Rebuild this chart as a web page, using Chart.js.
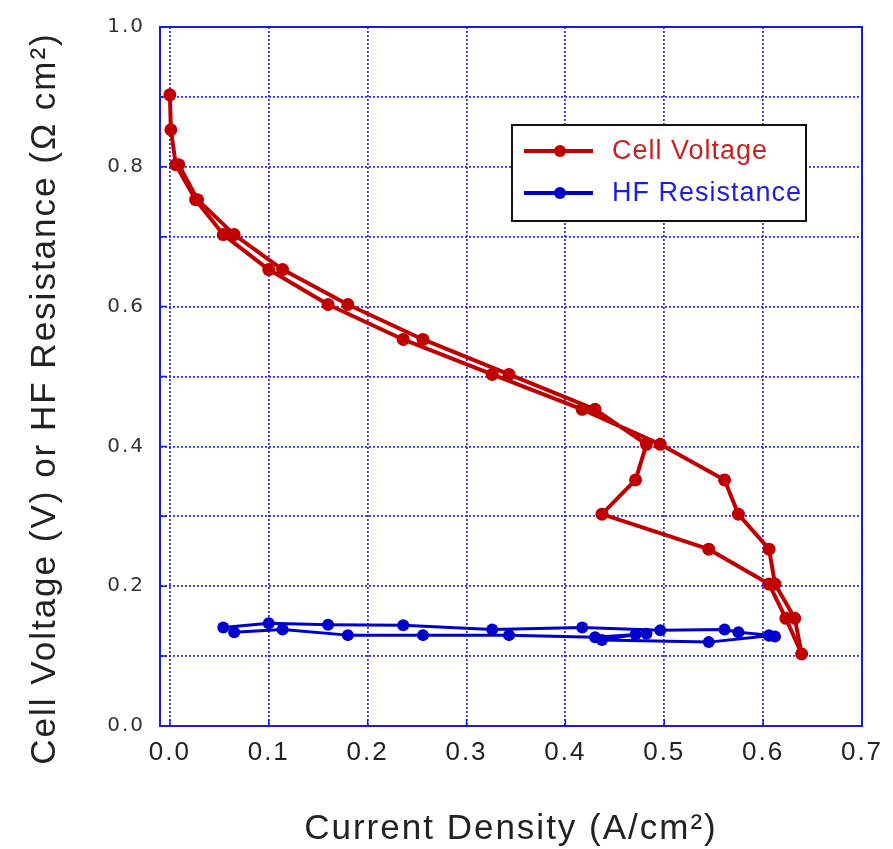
<!DOCTYPE html>
<html>
<head>
<meta charset="utf-8">
<script src="https://cdn.jsdelivr.net/npm/chart.js@4.4.1/dist/chart.umd.min.js"></script>
<style>
  html, body { margin: 0; padding: 0; background: #ffffff; }
  #wrap { width: 893px; height: 849px; position: relative; }
</style>
</head>
<body>
<div id="wrap"><canvas id="c" width="893" height="849"></canvas></div>
<script>
// ---------------- data ----------------
const seriesNames = ['Cell Voltage', 'HF Resistance'];

// Cell voltage: down sweep then up sweep (current A/cm2, voltage V)
const cellCurrent = [0.000, 0.001, 0.006, 0.026, 0.054, 0.100, 0.160, 0.236, 0.326, 0.417, 0.496, 0.561, 0.575, 0.606, 0.612, 0.632, 0.639,
                     0.623, 0.606, 0.545, 0.437, 0.471, 0.482, 0.430, 0.343, 0.256, 0.180, 0.114, 0.065, 0.028, 0.009];
const cellVoltage = [0.903, 0.853, 0.803, 0.753, 0.703, 0.653, 0.603, 0.553, 0.503, 0.453, 0.403, 0.352, 0.303, 0.253, 0.203, 0.154, 0.103,
                     0.154, 0.203, 0.253, 0.303, 0.352, 0.403, 0.453, 0.503, 0.553, 0.603, 0.653, 0.703, 0.753, 0.803];

// HF resistance (Ohm cm2) measured at the same points, 0.70 V to 0.20 V and back
const hfrCurrent = [0.054, 0.100, 0.160, 0.236, 0.326, 0.417, 0.496, 0.561, 0.575, 0.606, 0.612,
                    0.606, 0.545, 0.437, 0.471, 0.482, 0.430, 0.343, 0.256, 0.180, 0.114, 0.065];
const hfrValue   = [0.141, 0.147, 0.145, 0.144, 0.138, 0.141, 0.137, 0.138, 0.134, 0.130, 0.128,
                    0.129, 0.120, 0.123, 0.131, 0.132, 0.127, 0.130, 0.130, 0.130, 0.138, 0.134];

const xTickValues = [0, 0.1, 0.2, 0.3, 0.4, 0.5, 0.6, 0.7];
const xTickLabels = ['0.0', '0.1', '0.2', '0.3', '0.4', '0.5', '0.6', '0.7'];
const yTickValues = [0, 0.1, 0.2, 0.3, 0.4, 0.5, 0.6, 0.7, 0.8, 0.9, 1.0];
const yTickLabels = ['0.0', '', '0.2', '', '0.4', '', '0.6', '', '0.8', '', '1.0'];

const xTitle = 'Current Density (A/cm²)';
const yTitle = 'Cell Voltage (V) or HF Resistance (Ω cm²)';

// ---------------- styles ----------------
const RED = 'rgb(192,0,0)';
const BLUE = 'rgb(0,0,205)';
const RED_TEXT = 'rgb(204,30,30)';
const BLUE_TEXT = 'rgb(30,30,215)';
const AXIS_BLUE = 'rgb(25,25,225)';
const GRID_BLUE = 'rgba(40,40,235,0.95)';
const SANS = '"Liberation Sans", Arial, Helvetica, sans-serif';

const framePlugin = {
  id: 'framePlugin',
  beforeDraw(chart) {
    chart.ctx.letterSpacing = '2px';
  },
  beforeDatasetsDraw(chart) {
    const { ctx, chartArea: a, scales } = chart;
    ctx.save();
    ctx.strokeStyle = AXIS_BLUE;
    ctx.lineWidth = 2;
    ctx.strokeRect(a.left, a.top, a.right - a.left, a.bottom - a.top);
    ctx.lineWidth = 1.5;
    ctx.beginPath();
    xTickValues.forEach(v => {
      const px = scales.x.getPixelForValue(v);
      ctx.moveTo(px, a.bottom); ctx.lineTo(px, a.bottom - 7);
    });
    yTickValues.forEach(v => {
      const py = scales.y.getPixelForValue(v);
      ctx.moveTo(a.left, py); ctx.lineTo(a.left + 7, py);
    });
    ctx.stroke();
    ctx.restore();
  },
  afterDraw(chart) {
    const { ctx, chartArea: a } = chart;
    // y axis title
    ctx.save();
    ctx.letterSpacing = '2px';
    ctx.translate(45, (a.top + a.bottom) / 2 + 22);
    ctx.rotate(-Math.PI / 2);
    ctx.fillStyle = '#222222';
    ctx.font = '35px ' + SANS;
    ctx.textAlign = 'center';
    ctx.textBaseline = 'middle';
    ctx.fillText(yTitle, 0, 0);
    ctx.restore();

    // legend
    const left = a.left + 352, top = a.top + 98, w = 294, h = 96;
    ctx.save();
    ctx.letterSpacing = '1px';
    ctx.fillStyle = '#ffffff';
    ctx.fillRect(left, top, w, h);
    ctx.strokeStyle = '#111111';
    ctx.lineWidth = 2;
    ctx.strokeRect(left, top, w, h);
    const textColors = [RED_TEXT, BLUE_TEXT];
    chart.data.datasets.forEach((ds, i) => {
      const yy = top + 26 + i * 42;
      ctx.strokeStyle = ds.borderColor;
      ctx.lineWidth = 4;
      ctx.beginPath();
      ctx.moveTo(left + 12, yy); ctx.lineTo(left + 81, yy);
      ctx.stroke();
      ctx.fillStyle = ds.backgroundColor;
      ctx.beginPath();
      ctx.arc(left + 48, yy, 6, 0, Math.PI * 2);
      ctx.fill();
      ctx.fillStyle = textColors[i];
      ctx.font = '27px ' + SANS;
      ctx.textBaseline = 'middle';
      ctx.textAlign = 'left';
      ctx.fillText(ds.label, left + 100, yy + 1);
    });
    ctx.restore();
  }
};

const ctx = document.getElementById('c').getContext('2d');
new Chart(ctx, {
  type: 'scatter',
  data: {
    datasets: [
      {
        label: seriesNames[0],
        data: cellCurrent.map((x, i) => ({ x: x, y: cellVoltage[i] })),
        showLine: true,
        borderColor: RED,
        backgroundColor: RED,
        borderWidth: 4,
        borderJoinStyle: 'round',
        borderCapStyle: 'round',
        pointRadius: 6.5,
        pointBorderWidth: 0,
        pointBackgroundColor: RED,
        tension: 0
      },
      {
        label: seriesNames[1],
        data: hfrCurrent.map((x, i) => ({ x: x, y: hfrValue[i] })),
        showLine: true,
        borderColor: BLUE,
        backgroundColor: BLUE,
        borderWidth: 3,
        borderJoinStyle: 'round',
        borderCapStyle: 'round',
        pointRadius: 6,
        pointBorderWidth: 0,
        pointBackgroundColor: BLUE,
        tension: 0
      }
    ]
  },
  options: {
    responsive: false,
    animation: false,
    events: [],
    layout: { padding: { top: 24, right: 31, left: 0, bottom: 0 } },
    plugins: { legend: { display: false }, tooltip: { enabled: false } },
    scales: {
      x: {
        type: 'linear',
        min: -0.01,
        max: 0.7,
        afterBuildTicks: (scale) => { scale.ticks = xTickValues.map(v => ({ value: v })); },
        afterFit: (scale) => { scale.height = 123; },
        grid: { color: GRID_BLUE, lineWidth: 1.8, drawTicks: false },
        border: { display: true, color: AXIS_BLUE, width: 2, dash: [2, 2] },
        ticks: {
          padding: 11,
          color: '#222222',
          font: { family: SANS, size: 26 },
          maxRotation: 0,
          autoSkip: false,
          callback: (v, i) => xTickLabels[i]
        },
        title: {
          display: true,
          text: xTitle,
          color: '#222222',
          font: { family: SANS, size: 35, lineHeight: 1.1 },
          padding: { top: 0, bottom: 0 }
        }
      },
      y: {
        type: 'linear',
        min: 0,
        max: 1.0,
        afterBuildTicks: (scale) => { scale.ticks = yTickValues.map(v => ({ value: v })); },
        afterFit: (scale) => { scale.width = 160; },
        grid: { color: GRID_BLUE, lineWidth: 1.8, drawTicks: false },
        border: { display: true, color: AXIS_BLUE, width: 2, dash: [2, 2] },
        ticks: {
          padding: 15,
          color: '#333333',
          font: { family: '"DejaVu Sans", Verdana, sans-serif', size: 20 },
          autoSkip: false,
          callback: (v, i) => yTickLabels[i]
        },
        title: { display: false, text: yTitle }
      }
    }
  },
  plugins: [framePlugin]
});
</script>
</body>
</html>
